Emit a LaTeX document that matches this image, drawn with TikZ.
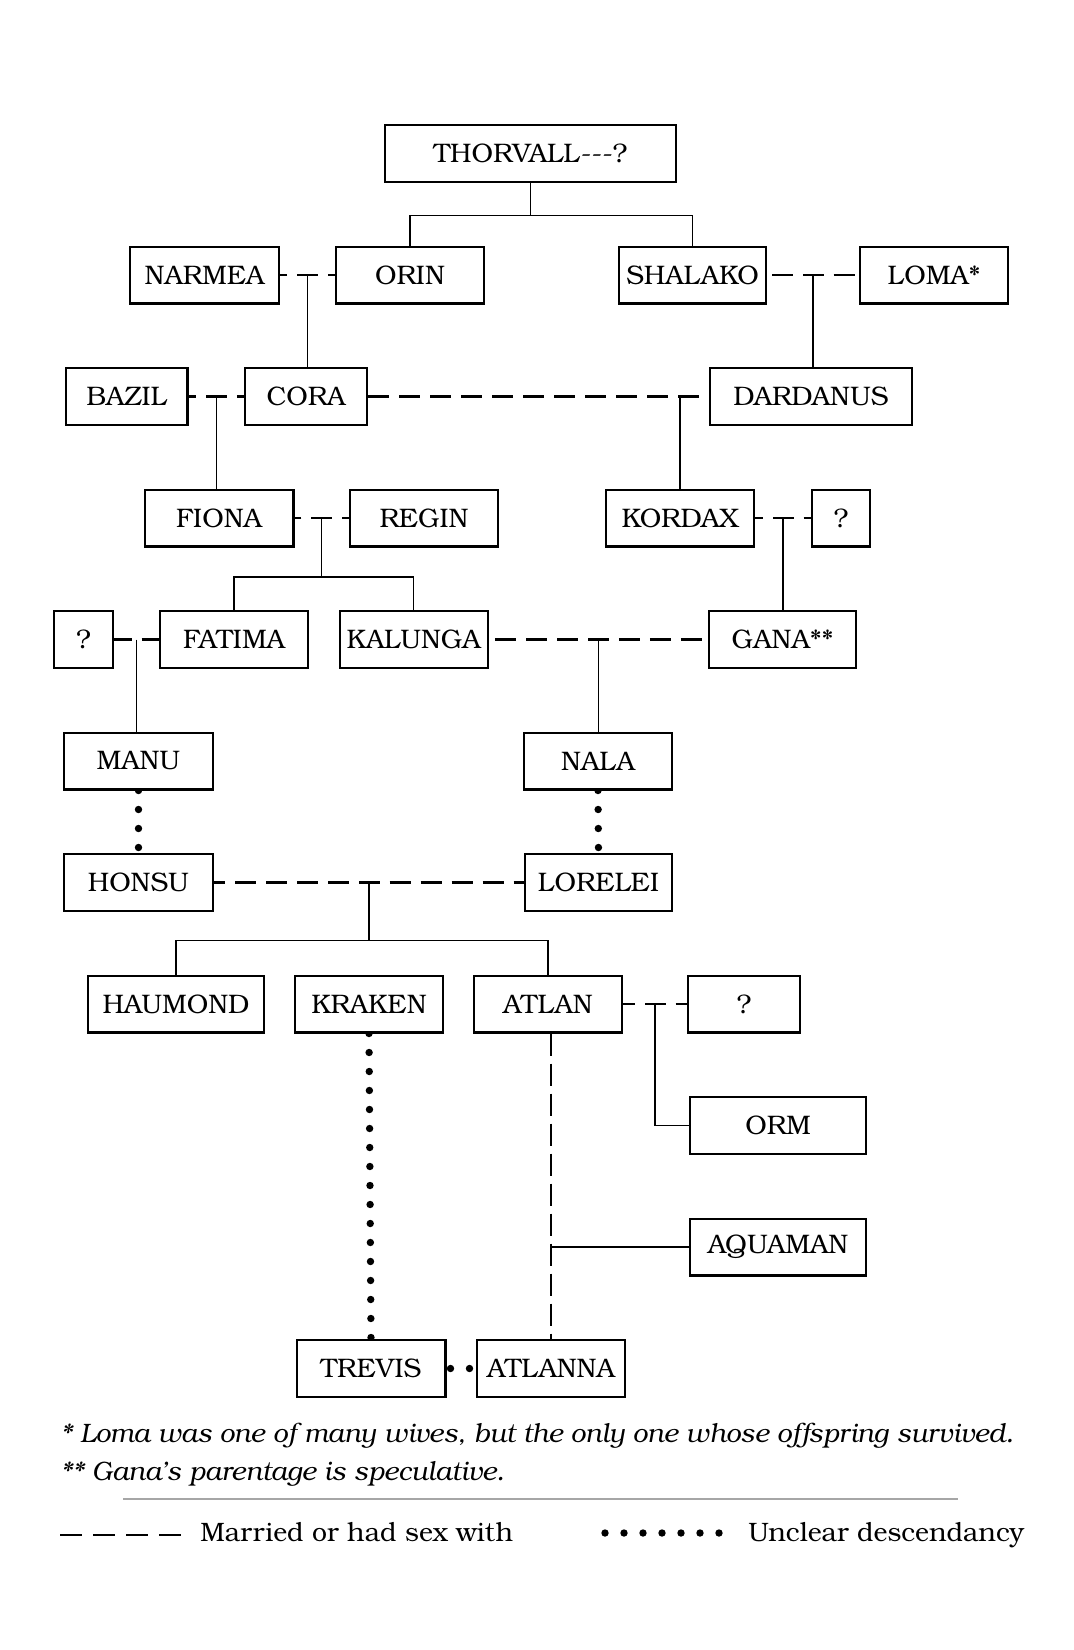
\documentclass[tikz,border=0pt]{standalone}
\usepackage{fontspec}
\setmainfont{texgyrebonum}[Extension=.otf,UprightFont=*-regular,ItalicFont=*-italic,BoldFont=*-bold,BoldItalicFont=*-bolditalic]
\usetikzlibrary{calc,backgrounds}
\tikzset{
  person/.style={draw,line width=1.1pt,fill=white,minimum height=28.4pt,inner sep=0pt,font=\fontsize{13.4}{15}\selectfont},
  wd/.style={minimum width={(#1-2.2)*0.5pt}},
  link/.style={line width=0.65pt},
  marr/.style={line width=1.4pt,dash pattern=on 10.5pt off 5pt},
  marrmid/.style={marr,dash phase=5.25pt},
  marrgap/.style={marr,dash phase=13pt},
  marrv/.style={line width=1pt,dash pattern=on 11pt off 4pt},
  dotl/.style={line width=3.7pt,line cap=round,dash pattern=on 0pt off 9.5pt},
  note/.style={anchor=base west,inner sep=0pt,font=\fontsize{13.3}{15}\selectfont\itshape\addfontfeatures{Ligatures=NoCommon}},
  legend/.style={anchor=base west,inner sep=0pt,font=\fontsize{13.3}{15}\selectfont},
}
\begin{document}
\begin{tikzpicture}[x=0.5pt,y=-0.5pt]
\useasboundingbox (0,0) rectangle (1073,1650);

% ---- boxes ----
\node[person,wd=293] (thor) at (530.5,153.5) {THORVALL-\kern0pt-\kern0pt-?};
\node[person,wd=151] (narmea) at (204.5,275) {NARMEA};
\node[person,wd=150] (orin) at (410,275) {ORIN};
\node[person,wd=149] (shalako) at (692.5,275) {SHALAKO};
\node[person,wd=150] (loma) at (934,275) {LOMA*};
\node[person,wd=124] (bazil) at (126.5,396.5) {BAZIL};
\node[person,wd=124] (cora) at (306,396.5) {CORA};
\node[person,wd=204] (dardanus) at (811,396.5) {DARDANUS};
\node[person,wd=151] (fiona) at (219,518) {FIONA};
\node[person,wd=150] (regin) at (424,518) {REGIN};
\node[person,wd=150] (kordax) at (680,518) {KORDAX};
\node[person,wd=60] (qa) at (841,518) {?};
\node[person,wd=61] (qb) at (83.5,639.5) {?};
\node[person,wd=150] (fatima) at (234,639.5) {FATIMA};
\node[person,wd=150] (kalunga) at (413.7,639.5) {KALUNGA};
\node[person,wd=149] (gana) at (782.5,639.5) {GANA**};
\node[person,wd=151] (manu) at (138.5,761) {MANU};
\node[person,wd=150] (nala) at (598,761) {NALA};
\node[person,wd=151] (honsu) at (138.5,882.5) {HONSU};
\node[person,wd=149] (lorelei) at (598.5,882.5) {LORELEI};
\node[person,wd=178] (haumond) at (176,1004) {HAUMOND};
\node[person,wd=150] (kraken) at (369,1004) {KRAKEN};
\node[person,wd=150] (atlan) at (548,1004) {ATLAN};
\node[person,wd=114] (qc) at (744,1004) {?};
\node[person,wd=178] (orm) at (778,1125.5) {ORM};
\node[person,wd=178] (aquaman) at (778,1247) {AQUAMAN};
\node[person,wd=151] (trevis) at (371,1368.5) {TREVIS};
\node[person,wd=150] (atlanna) at (551,1368.5) {ATLANNA};

% ---- junctions ----
\coordinate (j0) at (530.5,215.7);
\coordinate (j1) at (322,577);
\coordinate (j2) at (367,940.7);
\coordinate (m1) at ($(narmea.east)!0.5!(orin.west)$);
\coordinate (m2) at ($(shalako.east)!0.5!(loma.west)$);
\coordinate (m3) at ($(bazil.east)!0.5!(cora.west)$);
\coordinate (m5) at ($(fiona.east)!0.5!(regin.west)$);
\coordinate (m6) at ($(kordax.east)!0.5!(qa.west)$);
\coordinate (m7) at ($(qb.east)!0.5!(fatima.west)$);
\coordinate (m8) at ($(kalunga.east)!0.5!(gana.west)$);
\coordinate (m9) at ($(honsu.east)!0.5!(lorelei.west)$);
\coordinate (m10) at ($(atlan.east)!0.5!(qc.west)$);

\begin{scope}[on background layer]
\fill[white] (0,0) rectangle (1073,1650);
% ---- descent lines ----
\draw[link] (thor.south) -- (j0);
\draw[link] (orin.north) |- (j0) -| (shalako.north);
\draw[link] (m1) -- (m1 |- cora.north);
\draw[link] (m2) -- (m2 |- dardanus.north);
\draw[link] (m3) -- (m3 |- fiona.north);
\draw[link] (kordax.north) -- (kordax.north |- dardanus.west);
\draw[link] (m5) -- (m5 |- j1);
\draw[link] (fatima.north) |- (m5 |- j1) -| (kalunga.north);
\draw[link] (m6) -- (m6 |- gana.north);
\draw[link] (m7) -- (m7 |- manu.north);
\draw[link] (m8) -- (m8 |- nala.north);
\draw[link] (m9) -- (m9 |- j2);
\draw[link] (haumond.north) |- (m9 |- j2) -| (atlan.north);
\draw[link] (m10) |- (orm.west);
\draw[link] (aquaman.west) -- (aquaman.west -| atlanna.north);

% ---- marriages ----
\draw[marrmid] (m1) -- (narmea.east);
\draw[marrmid] (m1) -- (orin.west);
\draw[marrmid] (m2) -- (shalako.east);
\draw[marrmid] (m2) -- (loma.west);
\draw[marrmid] (m3) -- (bazil.east);
\draw[marrmid] (m3) -- (cora.west);
\draw[marr] (cora.east) -- (dardanus.west);
\draw[marrmid] (m5) -- (fiona.east);
\draw[marrmid] (m5) -- (regin.west);
\draw[marrmid] (m6) -- (kordax.east);
\draw[marrmid] (m6) -- (qa.west);
\draw[marrgap] (m7) -- (qb.east);
\draw[marrgap] (m7) -- (fatima.west);
\draw[marrmid] (m8) -- (kalunga.east);
\draw[marrmid] (m8) -- (gana.west);
\draw[marrmid] (m9) -- (honsu.east);
\draw[marrmid] (m9) -- (lorelei.west);
\draw[marrmid] (m10) -- (atlan.east);
\draw[marrmid] (m10) -- (qc.west);
\draw[marrv] (atlanna.north |- atlan.south) -- (atlanna.north);

% ---- unclear descent ----
\draw[dotl] (manu.south) -- (honsu.north);
\draw[dotl] (nala.south) -- (lorelei.north);
\draw[dotl] (kraken.south) -- (trevis.north);
\draw[dotl,shorten <=2pt] (trevis.east) -- (atlanna.west);
\end{scope}

% ---- notes ----
\node[note] (fn1) at (60,1442) {* Loma was one of many wives, but the only one whose offspring survived.};
\node[note] (fn2) at (60,1480) {** Gana’s parentage is speculative.};
\coordinate (r1) at (123,1499);
\coordinate (r2) at (958,1499);
\draw[gray!70,line width=0.6pt] (r1) -- (r2);

% ---- legend ----
\coordinate (la) at (60,1535);
\coordinate (lb) at (181,1535);
\draw[line width=1.4pt,dash pattern=on 11pt off 5.5pt] (la) -- (lb);
\node[legend] (lt1) at (200,1541) {Married or had sex with};
\coordinate (lc) at (605,1533);
\coordinate (ld) at (720,1533);
\draw[dotl] (lc) -- (ld);
\node[legend] (lt2) at (748,1541) {Unclear descendancy};
\end{tikzpicture}
\end{document}
